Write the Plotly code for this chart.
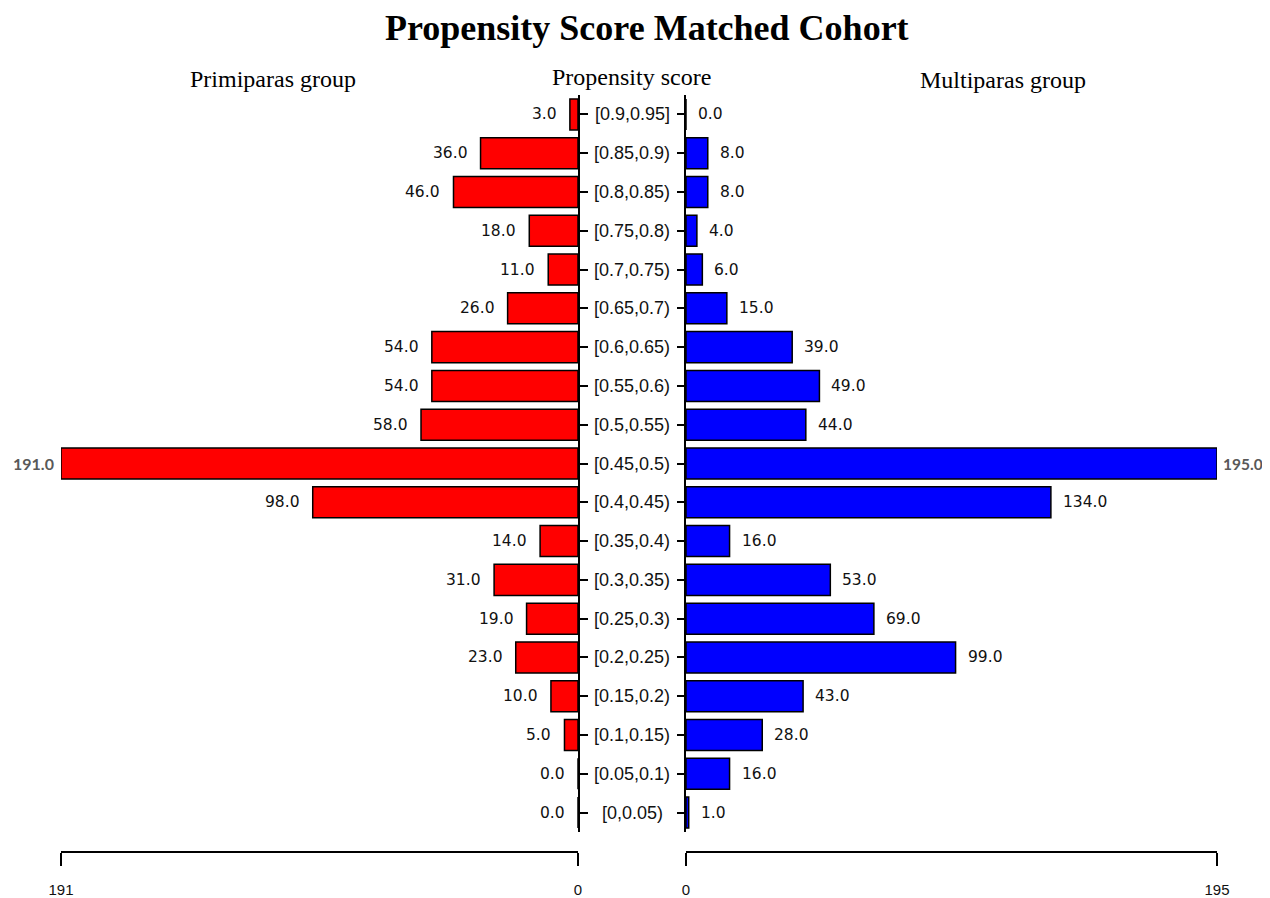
import plotly.graph_objects as go

categories = ["[0,0.05)", "[0.05,0.1)", "[0.1,0.15)", "[0.15,0.2)", "[0.2,0.25)",
              "[0.25,0.3)", "[0.3,0.35)", "[0.35,0.4)", "[0.4,0.45)", "[0.45,0.5)",
              "[0.5,0.55)", "[0.55,0.6)", "[0.6,0.65)", "[0.65,0.7)", "[0.7,0.75)",
              "[0.75,0.8)", "[0.8,0.85)", "[0.85,0.9)", "[0.9,0.95]"]
primiparas = [0, 0, 5, 10, 23, 19, 31, 14, 98, 191, 58, 54, 54, 26, 11, 18, 46, 36, 3]
multiparas = [1, 16, 28, 43, 99, 69, 53, 16, 134, 195, 44, 49, 39, 15, 6, 4, 8, 8, 0]
left_max = 191
right_max = 195

# page body has an 8px margin; figure is placed at (8, 8)
OFF = 8
W, H = 1270 - OFF, 898 - OFF
def px(x): return (x - OFF) / W
def py(y): return 1 - (y - OFF) / H

SANS = "Liberation Sans, Arial, sans-serif"
WIDE = "DejaVu Sans, Verdana, sans-serif"
SERIF = "Liberation Serif, Times New Roman, serif"
BOLDGRAY = "Lato, Liberation Sans, sans-serif"

fig = go.Figure()
fig.add_trace(go.Bar(y=categories, x=primiparas, orientation="h", xaxis="x", yaxis="y",
                     width=0.8, marker=dict(color="#FF0000", line=dict(color="black", width=1.5)),
                     hoverinfo="x+y", showlegend=False))
fig.add_trace(go.Bar(y=categories, x=multiparas, orientation="h", xaxis="x2", yaxis="y2",
                     width=0.8, marker=dict(color="#0000FF", line=dict(color="black", width=1.5)),
                     hoverinfo="x+y", showlegend=False))

annotations = []
for c, v in zip(categories, primiparas):
    big = v == max(primiparas)
    if big:
        font = dict(family=BOLDGRAY, size=16, color="#595959", weight="bold")
    else:
        font = dict(family=WIDE, size=15.5, color="#111")
    annotations.append(dict(xref="x", yref="y", x=v, y=c, text=f"{v:.1f}", showarrow=False,
                            xanchor="right", xshift=-5 if big else -11, font=font))
for c, v in zip(categories, multiparas):
    big = v == max(multiparas)
    if big:
        font = dict(family=BOLDGRAY, size=15.5, color="#595959", weight="bold")
    else:
        font = dict(family=WIDE, size=15.5, color="#111")
    annotations.append(dict(xref="x2", yref="y2", x=v, y=c, text=f"{v:.1f}", showarrow=False,
                            xanchor="left", xshift=4 if big else 10, font=font))
for c in categories:
    annotations.append(dict(xref="paper", yref="y", x=px(632), y=c, text=c, showarrow=False,
                            xanchor="center", font=dict(family=SANS, size=18, color="#111")))

annotations += [
    dict(xref="paper", yref="paper", x=px(647), y=py(28), text="<b>Propensity Score Matched Cohort</b>",
         showarrow=False, xanchor="center", yanchor="middle", font=dict(family=SERIF, size=36, color="black")),
    dict(xref="paper", yref="paper", x=px(273), y=py(79), text="Primiparas group",
         showarrow=False, xanchor="center", yanchor="middle", font=dict(family=SERIF, size=24, color="black")),
    dict(xref="paper", yref="paper", x=px(631), y=py(77), text="Propensity score",
         showarrow=False, xanchor="center", yanchor="middle", font=dict(family=SERIF, size=24, color="black")),
    dict(xref="paper", yref="paper", x=px(1003), y=py(80), text="Multiparas group",
         showarrow=False, xanchor="center", yanchor="middle", font=dict(family=SERIF, size=24, color="black")),
]

ydom = [py(832), py(95)]
common_x = dict(showline=True, linecolor="black", linewidth=1.5, showgrid=False, zeroline=False,
                ticks="outside", ticklen=13, tickwidth=1.5, tickcolor="black", ticklabelstandoff=11,
                automargin=False, tickfont=dict(family=SANS, size=15, color="#111"),
                anchor="free", position=py(852))
common_y = dict(domain=ydom, range=[-0.5, 18.5], showline=True, linecolor="black", linewidth=1.5,
                showgrid=False, zeroline=False, ticks="outside", tickwidth=1.5, tickcolor="black",
                showticklabels=False, type="category", automargin=False)
fig.update_layout(
    template="none",
    width=W, height=H, margin=dict(l=0, r=0, t=0, b=0, pad=0),
    paper_bgcolor="white", plot_bgcolor="white",
    annotations=annotations,
    xaxis=dict(domain=[px(61), px(578)], range=[left_max, 0],
               tickvals=[left_max, 0], ticktext=[str(left_max), "0"], **common_x),
    xaxis2=dict(domain=[px(686), px(1217)], range=[0, right_max],
                tickvals=[0, right_max], ticktext=["0", str(right_max)], **common_x),
    yaxis=dict(anchor="x", side="right", ticklen=8, **common_y),
    yaxis2=dict(anchor="x2", side="left", overlaying="y", ticklen=7, **common_y),
)

fig.write_html("out.html")
